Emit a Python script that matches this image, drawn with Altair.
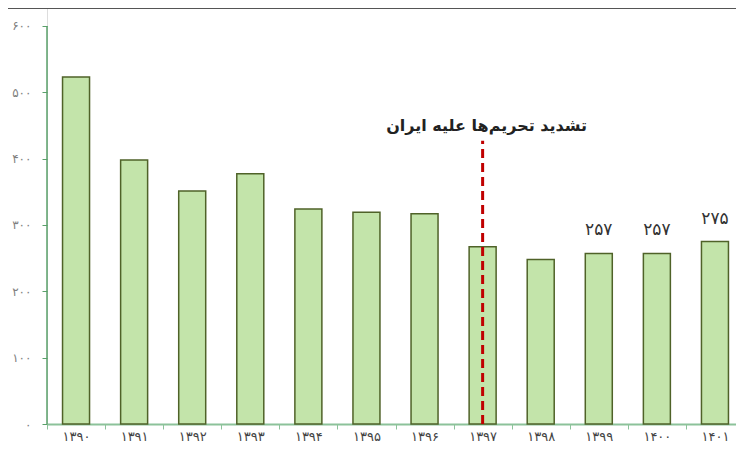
import altair as alt
import pandas as pd

years = ["۱۳۹۰", "۱۳۹۱", "۱۳۹۲", "۱۳۹۳", "۱۳۹۴", "۱۳۹۵", "۱۳۹۶", "۱۳۹۷", "۱۳۹۸", "۱۳۹۹", "۱۴۰۰", "۱۴۰۱"]
values = [523, 398, 351, 377, 324, 319, 317, 267, 248, 257, 257, 275]
bar_labels = ["", "", "", "", "", "", "", "", "", "۲۵۷", "۲۵۷", "۲۷۵"]
y_ticks = [0, 100, 200, 300, 400, 500, 600]
y_tick_labels = ["۰", "۱۰۰", "۲۰۰", "۳۰۰", "۴۰۰", "۵۰۰", "۶۰۰"]
event_year = "۱۳۹۷"
event_text = "تشدید تحریم‌ها علیه ایران"

df = pd.DataFrame({"year": years, "value": values, "label": bar_labels})

label_expr = "''"
for v, l in reversed(list(zip(y_ticks, y_tick_labels))):
    label_expr = f"datum.value == {v} ? '{l}' : ({label_expr})"

x_scale = alt.Scale(domain=years, paddingInner=0, paddingOuter=0, range=[0, 697])
y_scale = alt.Scale(domain=[0, 627], nice=False, zero=True)

base = alt.Chart(df)

bars = base.mark_bar(size=27, color="#c3e4aa", stroke="#4f6228", strokeWidth=1.5).encode(
    x=alt.X("year:N", scale=x_scale, sort=None, title=None,
            axis=alt.Axis(labelAngle=0, labelFont="DejaVu Sans", labelFontSize=13,
                          labelColor="#444444", domainColor="#8cc29a", domainWidth=2,
                          tickColor="#8cc29a", tickSize=5, tickWidth=1, tickBand="extent",
                          labelPadding=1)),
    y=alt.Y("value:Q", scale=y_scale, title=None,
            axis=alt.Axis(values=y_ticks, labelExpr=label_expr, domain=False, grid=False,
                          labelFont="DejaVu Sans", labelFontSize=12, labelColor="#808080",
                          tickColor="#5aa06a", tickSize=5, labelPadding=11)),
)

yaxis_line = alt.Chart(pd.DataFrame({"a": [0]})).mark_rule(color="#5aa06a", strokeWidth=1.5).encode(
    x=alt.value(0), y=alt.datum(0, scale=y_scale), y2=alt.datum(600)
)

texts = base.mark_text(baseline="bottom", dy=-14, font="DejaVu Sans", fontSize=17, color="#333333").encode(
    x=alt.X("year:N", scale=x_scale, sort=None),
    y=alt.Y("value:Q", scale=y_scale),
    text="label:N",
)

ev = pd.DataFrame({"year": [event_year], "top": [427], "bottom": [0], "ty": [449], "t": [event_text]})
event_line = alt.Chart(ev).mark_rule(color="#c00000", strokeWidth=3, strokeDash=[9, 5]).encode(
    x=alt.X("year:N", scale=x_scale, sort=None),
    y=alt.Y("bottom:Q", scale=y_scale),
    y2="top:Q",
)
event_label = alt.Chart(ev).mark_text(font="DejaVu Sans", fontSize=16, fontWeight="bold",
                                      color="#222222", dx=4, baseline="middle").encode(
    x=alt.X("year:N", scale=x_scale, sort=None),
    y=alt.Y("ty:Q", scale=y_scale),
    text="t:N",
)

top_line = alt.Chart(pd.DataFrame({"a": [0]})).mark_rule(color="#555555", strokeWidth=2).encode(
    x=alt.value(-39), x2=alt.value(697), y=alt.value(0)
)

chart = alt.layer(top_line, bars, yaxis_line, texts, event_line, event_label).properties(
    width=689, height=416,
    autosize=alt.AutoSizeParams(type="none"),
    padding={"left": 39, "top": 0, "right": 0, "bottom": 19},
).configure_view(stroke=None).configure(background="white")

chart.save("out.html", embed_options={"renderer": "svg", "actions": False})
